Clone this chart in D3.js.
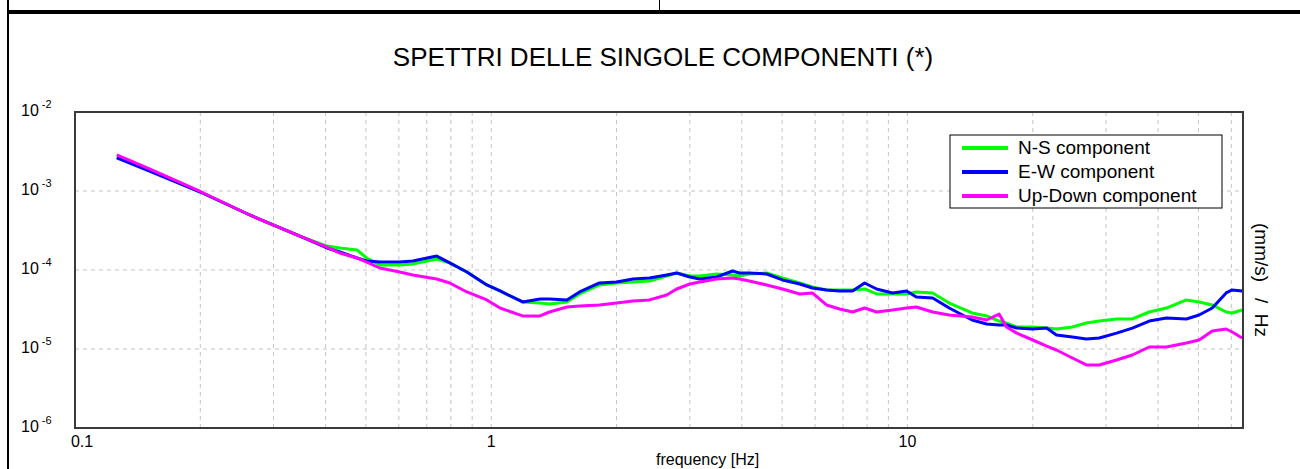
<!DOCTYPE html>
<html><head><meta charset="utf-8">
<script src="https://cdn.jsdelivr.net/npm/d3@7"></script>
<style>
html,body{margin:0;padding:0;background:#fff;}
svg{display:block;font-family:"Liberation Sans",Arial,sans-serif;}
</style></head>
<body>
<svg id="c" width="1300" height="469"></svg>
<script>
// ---- data ----
const freq = [0.126,0.151,0.200,0.263,0.347,0.403,0.433,0.476,0.502,0.540,0.603,0.648,0.740,0.795,0.874,0.976,1.05,1.19,1.31,1.38,1.52,1.63,1.82,2.00,2.19,2.40,2.64,2.79,3.00,3.17,3.48,3.80,3.95,4.17,4.59,5.01,5.51,5.91,6.39,6.87,7.38,7.89,8.43,9.21,9.95,10.5,11.5,12.6,14.3,15.5,16.6,17.3,18.3,20.0,21.6,22.8,24.9,26.9,28.9,31.8,34.7,38.1,41.9,46.8,50.2,54.0,58.3,60.3,63.7];
const nsValues = [2.69e-3,1.84e-3,9.71e-4,4.97e-4,2.69e-4,2.01e-4,1.90e-4,1.79e-4,1.42e-4,1.16e-4,1.16e-4,1.19e-4,1.38e-4,1.23e-4,9.43e-5,6.46e-5,5.43e-5,3.94e-5,3.82e-5,3.71e-5,3.94e-5,4.97e-5,6.46e-5,6.85e-5,7.05e-5,7.26e-5,8.40e-5,9.16e-5,8.40e-5,8.40e-5,8.90e-5,8.65e-5,8.40e-5,8.90e-5,9.16e-5,7.92e-5,6.85e-5,6.10e-5,5.59e-5,5.59e-5,5.59e-5,5.75e-5,4.97e-5,4.97e-5,4.97e-5,5.27e-5,5.12e-5,3.82e-5,2.86e-5,2.62e-5,2.26e-5,2.13e-5,1.90e-5,1.90e-5,1.84e-5,1.79e-5,1.90e-5,2.13e-5,2.26e-5,2.40e-5,2.40e-5,2.94e-5,3.30e-5,4.18e-5,3.94e-5,3.61e-5,2.94e-5,2.86e-5,3.12e-5];
const ewValues = [2.62e-3,1.79e-3,9.71e-4,4.97e-4,2.69e-4,1.90e-4,1.69e-4,1.42e-4,1.30e-4,1.26e-4,1.26e-4,1.30e-4,1.50e-4,1.23e-4,9.43e-5,6.46e-5,5.43e-5,3.94e-5,4.30e-5,4.30e-5,4.18e-5,5.27e-5,6.85e-5,7.05e-5,7.70e-5,7.92e-5,8.65e-5,9.16e-5,8.16e-5,7.70e-5,8.16e-5,9.71e-5,9.16e-5,9.16e-5,8.90e-5,7.48e-5,6.65e-5,5.92e-5,5.59e-5,5.43e-5,5.43e-5,6.85e-5,5.75e-5,5.12e-5,5.43e-5,4.56e-5,4.43e-5,3.30e-5,2.33e-5,2.07e-5,2.01e-5,2.01e-5,1.84e-5,1.79e-5,1.84e-5,1.50e-5,1.42e-5,1.34e-5,1.38e-5,1.59e-5,1.84e-5,2.26e-5,2.47e-5,2.40e-5,2.69e-5,3.30e-5,5.12e-5,5.59e-5,5.43e-5];
const udValues = [2.86e-3,1.90e-3,9.86e-4,4.97e-4,2.69e-4,1.95e-4,1.64e-4,1.42e-4,1.26e-4,1.06e-4,9.43e-5,8.65e-5,7.70e-5,6.85e-5,5.27e-5,4.18e-5,3.30e-5,2.62e-5,2.62e-5,2.94e-5,3.40e-5,3.50e-5,3.61e-5,3.82e-5,4.06e-5,4.18e-5,4.83e-5,5.75e-5,6.65e-5,7.05e-5,7.70e-5,7.92e-5,7.70e-5,7.26e-5,6.46e-5,5.75e-5,4.97e-5,5.12e-5,3.61e-5,3.21e-5,2.94e-5,3.30e-5,2.94e-5,3.12e-5,3.30e-5,3.40e-5,2.94e-5,2.69e-5,2.54e-5,2.33e-5,2.77e-5,1.90e-5,1.59e-5,1.30e-5,1.09e-5,9.71e-6,7.70e-6,6.28e-6,6.28e-6,7.26e-6,8.40e-6,1.06e-5,1.06e-5,1.19e-5,1.30e-5,1.69e-5,1.79e-5,1.64e-5,1.38e-5];
const seriesNames = ["N-S component","E-W component","Up-Down component"];
const seriesColors = ["#00ff00","#0000ff","#ff00ff"];
const xTickValues = [0.1, 1, 10];
const xTickLabels = ["0.1", "1", "10"];
const yTickValues = [1e-2, 1e-3, 1e-4, 1e-5, 1e-6];
const yTickExponents = ["-2", "-3", "-4", "-5", "-6"];
const xGridValues = [0.2,0.3,0.4,0.5,0.6,0.7,0.8,0.9,1,2,3,4,5,6,7,8,9,10,20,30,40,50,60];
const yGridValues = [1e-3, 1e-4, 1e-5];
const titleText = "SPETTRI DELLE SINGOLE COMPONENTI (*)";
const xLabel = "frequency [Hz]";
const yLabel = "(mm/s)   /  Hz";

// ---- layout ----
const L = 75, R = 1243, T = 112, B = 428;
const svg = d3.select("#c");
const x = d3.scaleLog().domain([0.1, 64]).range([L, R]);
const y = d3.scaleLog().domain([1e-6, 1e-2]).range([B, T]);

// page frame
svg.append("rect").attr("x", 7).attr("y", 0).attr("width", 2).attr("height", 469).attr("fill", "#000");
svg.append("rect").attr("x", 7).attr("y", 10).attr("width", 1293).attr("height", 4).attr("fill", "#000");
svg.append("rect").attr("x", 659).attr("y", 0).attr("width", 1).attr("height", 11).attr("fill", "#000");

// title
svg.append("text").attr("x", 663).attr("y", 66).attr("text-anchor", "middle")
  .attr("font-size", 26).attr("fill", "#000").text(titleText);

// grid
const g = svg.append("g");
g.selectAll("line.vg").data(xGridValues).join("line").attr("class","vg")
  .attr("x1", d => x(d)).attr("x2", d => x(d)).attr("y1", T).attr("y2", B)
  .attr("stroke", "#c4c4c4").attr("stroke-width", 1).attr("stroke-dasharray", "4,4");
g.selectAll("line.hg").data(yGridValues).join("line").attr("class","hg")
  .attr("x1", L).attr("x2", R).attr("y1", d => y(d)).attr("y2", d => y(d))
  .attr("stroke", "#c4c4c4").attr("stroke-width", 1).attr("stroke-dasharray", "4,4");

// series
const seriesData = [nsValues, ewValues, udValues];
const line = d3.line().x((d, i) => x(freq[i])).y(d => y(d));
seriesData.forEach((vals, k) => {
  svg.append("path").datum(vals).attr("d", line)
    .attr("fill", "none").attr("stroke", seriesColors[k]).attr("stroke-width", 3)
    .attr("stroke-linejoin", "round");
});

// plot frame
svg.append("rect").attr("x", L).attr("y", T).attr("width", R - L).attr("height", B - T)
  .attr("fill", "none").attr("stroke", "#3a3a3a").attr("stroke-width", 2);

// y tick labels
const yl = svg.append("g").attr("font-size", 16).attr("fill", "#000");
yTickValues.forEach((v, i) => {
  const t = yl.append("text").attr("x", 21).attr("y", y(v) + 4);
  t.append("tspan").text("10");
  t.append("tspan").attr("dx", 3).attr("dy", -8).attr("font-size", 11).text(yTickExponents[i]);
});

// x tick labels
svg.append("g").attr("font-size", 16).selectAll("text").data(xTickValues).join("text")
  .attr("x", (d, i) => x(d) + (i === 0 ? 7 : 0)).attr("y", 447).attr("text-anchor", "middle")
  .text((d, i) => xTickLabels[i]);

// axis labels
svg.append("text").attr("x", 656).attr("y", 465).attr("font-size", 16).text(xLabel);
svg.append("text").attr("transform", "translate(1255,280) rotate(90)").attr("text-anchor", "middle")
  .attr("font-size", 19).text(yLabel).style("white-space", "pre");

// legend
const lg = svg.append("g");
lg.append("rect").attr("x", 950).attr("y", 135).attr("width", 272).attr("height", 73)
  .attr("fill", "#fff").attr("stroke", "#000").attr("stroke-width", 1);
seriesNames.forEach((n, i) => {
  const yy = 148 + i * 24;
  lg.append("line").attr("x1", 962).attr("x2", 1008).attr("y1", yy).attr("y2", yy)
    .attr("stroke", seriesColors[i]).attr("stroke-width", 4);
  lg.append("text").attr("x", 1018).attr("y", yy + 6).attr("font-size", 19).text(n);
});
</script>
</body></html>
